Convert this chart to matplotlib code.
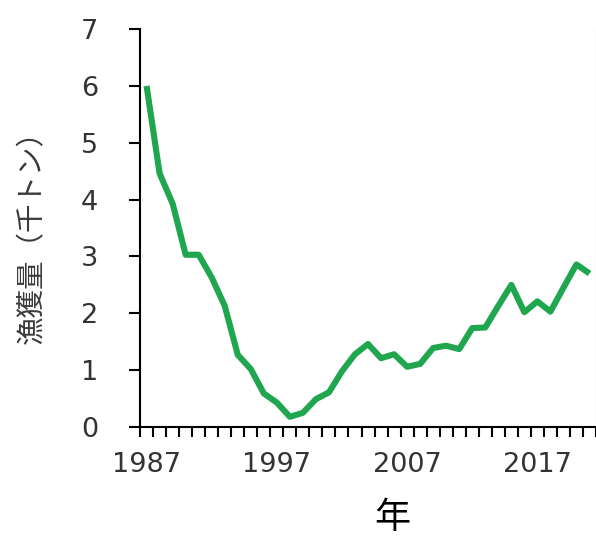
import matplotlib
matplotlib.use("Agg")
import matplotlib.pyplot as plt
import numpy as np

years = list(range(1987, 2022))
catch = [6.00, 4.46, 3.93, 3.03, 3.03, 2.63, 2.13, 1.27, 1.02, 0.59, 0.43, 0.18,
         0.25, 0.49, 0.61, 0.98, 1.28, 1.46, 1.21, 1.28, 1.06, 1.11, 1.39, 1.43,
         1.37, 1.74, 1.75, 2.13, 2.50, 2.02, 2.21, 2.03, 2.45, 2.86, 2.70]
xtick_labels = [1987, 1997, 2007, 2017]
yticks = [0, 1, 2, 3, 4, 5, 6, 7]

plt.rcParams['font.family'] = ['DejaVu Sans', 'Noto Sans CJK JP']

fig = plt.figure(figsize=(5.96, 5.38), dpi=100)
ax = fig.add_axes([0.235, 0.2063, 0.765, 0.7397])

ax.plot(years, catch, color='#1fa64f', lw=4.4, solid_joinstyle='round', solid_capstyle='butt')

ax.set_xlim(years[0] - 0.5, years[-1] + 0.5)
ax.set_ylim(0, 7)

# category boundary ticks
ax.set_xticks(np.arange(years[0] - 0.5, years[-1] + 1.0, 1.0))
ax.set_xticklabels([])
ax.set_xticks(xtick_labels, minor=True)
ax.set_xticklabels([str(v) for v in xtick_labels], minor=True)
ax.tick_params(axis='x', which='major', direction='out', length=7, width=1.5, color='black')
ax.tick_params(axis='x', which='minor', length=0, pad=18, labelsize=19.5, labelcolor='#333333')

ax.set_yticks(yticks)
ax.set_yticklabels([str(v) for v in yticks])
ax.tick_params(axis='y', direction='out', length=8, width=1.5, pad=22, labelsize=19.5,
               labelcolor='#333333', color='black')

ax.spines['top'].set_visible(False)
ax.spines['right'].set_color('#cccccc')
ax.spines['right'].set_linewidth(0.8)
ax.spines['left'].set_linewidth(1.5)
ax.spines['bottom'].set_linewidth(1.5)

fig.text(32 / 596, 0.572, '漁獲量（千トン）', rotation=90, ha='center', va='center',
         fontsize=20.5, color='#3a3a3a', family=['Noto Sans CJK JP', 'DejaVu Sans'])
fig.text(392 / 596, 1 - 518 / 538, '年', ha='center', va='center', fontsize=26,
         color='black', family=['Noto Sans CJK JP', 'DejaVu Sans'])

fig.savefig('out.png', dpi=100)
